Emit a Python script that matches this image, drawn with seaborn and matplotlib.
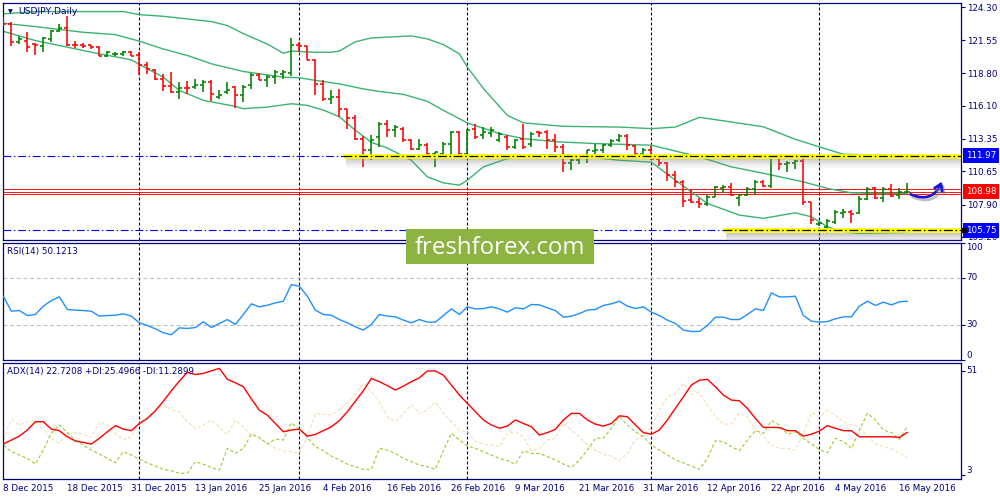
import matplotlib
matplotlib.use("Agg")
import numpy as np
import matplotlib.pyplot as plt
import matplotlib.patheffects as pe
from matplotlib.patches import Rectangle
import seaborn as sns

# ---- values ----
date_labels = ["8 Dec 2015", "18 Dec 2015", "31 Dec 2015", "13 Jan 2016", "25 Jan 2016",
               "4 Feb 2016", "16 Feb 2016", "26 Feb 2016", "9 Mar 2016", "21 Mar 2016",
               "31 Mar 2016", "12 Apr 2016", "22 Apr 2016", "4 May 2016", "16 May 2016"]
date_label_bars = [0, 8, 16, 24, 32, 40, 48, 56, 64, 72, 80, 88, 96, 104, 112]
month_sep_bars = [17, 37, 58, 81, 102]

bar_open = [
    123.36, 122.92, 121.45, 121.48, 121.26, 121.12, 121.67, 122.30, 122.59, 121.20,
    121.20, 121.14, 120.98, 120.23, 120.40, 120.40, 120.54, 120.31, 119.52, 119.10,
    118.36, 117.72, 117.25, 117.61, 117.66, 117.80, 118.08, 116.83, 117.25, 117.66,
    116.97, 117.80, 118.63, 118.22, 118.49, 118.77, 118.82, 121.20, 121.04, 119.93,
    117.94, 116.70, 116.83, 115.87, 115.12, 113.38, 112.41, 113.52, 114.63, 114.07,
    114.21, 113.24, 112.55, 112.83, 112.14, 112.14, 112.97, 113.93, 112.14, 114.21,
    113.66, 113.85, 113.30, 113.52, 112.69, 113.38, 112.97, 113.93, 113.93, 113.24,
    112.69, 111.36, 111.64, 111.81, 112.39, 112.47, 112.83, 113.24, 113.57, 112.77,
    112.14, 112.47, 111.72, 111.36, 110.34, 109.78, 108.27, 108.13, 107.93, 108.54,
    109.24, 109.37, 108.43, 108.72, 109.18, 109.78, 109.43, 111.81, 111.25, 111.36,
    111.53, 108.13, 106.28, 106.00, 106.47, 107.21, 107.30, 107.16, 108.32, 109.24,
    108.41, 109.15, 108.68, 108.95]
bar_high = [
    123.47, 123.05, 121.95, 122.28, 121.34, 121.81, 122.42, 122.92, 123.61, 121.48,
    121.34, 121.20, 121.04, 120.70, 120.56, 120.65, 120.65, 120.56, 119.73, 119.19,
    118.77, 118.91, 118.08, 118.16, 118.36, 118.27, 118.27, 117.39, 118.08, 117.72,
    117.80, 118.82, 118.82, 118.63, 119.10, 119.10, 121.76, 121.39, 121.12, 120.02,
    118.27, 117.45, 117.53, 115.87, 115.31, 113.57, 113.66, 114.76, 114.90, 114.49,
    114.34, 113.38, 113.38, 113.02, 112.27, 113.10, 114.01, 114.01, 114.21, 114.57,
    114.34, 114.34, 113.93, 113.66, 113.38, 114.57, 113.93, 114.01, 114.13, 113.80,
    112.97, 111.72, 111.91, 112.47, 112.91, 112.97, 113.38, 113.74, 113.74, 112.83,
    112.64, 112.74, 111.81, 111.44, 110.70, 109.92, 109.15, 108.41, 108.76, 109.43,
    109.51, 109.70, 108.76, 109.34, 109.92, 109.92, 111.86, 111.86, 111.53, 111.64,
    112.00, 108.13, 106.47, 106.67, 107.44, 107.49, 107.44, 108.60, 109.32, 109.32,
    109.37, 109.59, 109.24, 109.65]
bar_low = [
    122.78, 121.12, 121.26, 120.56, 120.35, 120.56, 121.39, 122.22, 121.12, 120.93,
    120.93, 120.85, 120.23, 120.15, 120.29, 120.29, 120.23, 118.63, 118.77, 118.22,
    117.33, 117.16, 116.70, 117.11, 117.53, 117.25, 116.50, 116.70, 117.11, 115.95,
    116.42, 117.53, 118.22, 117.66, 117.94, 118.36, 118.55, 120.56, 119.88, 116.97,
    116.50, 116.23, 115.17, 114.21, 113.24, 111.03, 111.58, 112.69, 113.52, 113.52,
    113.10, 112.41, 112.41, 111.72, 111.03, 112.00, 112.00, 112.00, 112.00, 113.38,
    113.38, 113.52, 113.10, 112.41, 112.55, 112.55, 112.69, 113.52, 112.55, 112.27,
    110.61, 110.75, 111.31, 111.36, 112.14, 112.19, 112.69, 113.10, 112.47, 112.00,
    112.00, 111.58, 111.09, 109.87, 109.37, 107.66, 107.99, 107.58, 107.77, 108.49,
    108.87, 108.60, 107.77, 108.60, 108.68, 109.32, 109.24, 110.81, 110.61, 110.89,
    107.85, 106.28, 106.11, 105.51, 106.28, 106.75, 106.38, 107.11, 108.27, 108.32,
    108.13, 108.49, 108.32, 108.82]
bar_close = [
    122.94, 121.45, 121.67, 120.98, 121.14, 121.72, 122.30, 122.59, 121.20, 121.14,
    121.09, 120.98, 120.29, 120.56, 120.43, 120.54, 120.29, 119.46, 119.13, 118.36,
    117.72, 117.25, 117.61, 117.55, 117.80, 118.08, 117.11, 116.97, 117.45, 116.97,
    117.66, 118.63, 118.27, 118.49, 118.91, 118.91, 121.20, 121.04, 119.93, 117.94,
    116.70, 116.83, 115.87, 115.12, 113.38, 112.41, 113.24, 114.63, 114.07, 114.34,
    113.24, 112.55, 112.83, 112.14, 112.25, 112.97, 113.93, 112.14, 114.13, 113.52,
    113.93, 114.07, 113.74, 112.69, 113.30, 112.69, 113.80, 113.85, 113.24, 112.69,
    111.36, 111.64, 111.81, 112.41, 112.44, 112.83, 113.18, 113.57, 112.83, 112.14,
    112.47, 111.72, 111.36, 110.34, 109.78, 108.21, 108.13, 107.93, 108.49, 109.32,
    109.37, 108.68, 108.68, 109.18, 109.78, 109.43, 111.81, 111.25, 111.36, 111.53,
    108.13, 106.61, 106.38, 106.55, 107.30, 107.30, 107.11, 108.32, 109.15, 108.41,
    109.15, 108.60, 108.95, 108.98]

# Bollinger bands, read at the bars where the curves were sampled
bb_up_bars = [0, 4, 15, 17, 20, 23, 26, 28, 30, 33, 35, 36, 39, 41, 42, 44, 46, 51, 53,
              55, 57, 58, 60, 63, 65, 70, 77, 81, 84, 87, 91, 95, 99, 102, 105, 110, 113]
bb_up = [123.75, 123.94, 123.94, 123.69, 123.55, 123.33, 123.11, 122.78, 122.11, 121.24,
         120.48, 120.66, 120.56, 120.56, 120.66, 121.43, 121.75, 121.92, 121.67, 121.20,
         120.43, 119.32, 117.55, 115.31, 114.69, 114.40, 114.34, 114.21, 114.34, 115.15,
         114.76, 114.36, 113.32, 112.69, 112.08, 112.00, 111.96]
bb_mid_bars = [0, 4, 10, 14, 17, 20, 23, 26, 30, 35, 37, 39, 42, 45, 47, 50, 53, 55, 58,
               62, 65, 69, 74, 81, 87, 91, 95, 100, 103, 106, 109, 113]
bb_mid = [122.97, 122.69, 122.22, 122.03, 121.48, 120.83, 120.29, 119.60, 118.96, 118.49,
          118.44, 118.22, 117.93, 117.51, 117.30, 117.06, 116.48, 115.73, 114.68, 113.80,
          113.38, 113.12, 112.97, 112.83, 111.86, 111.03, 110.50, 109.78, 109.24, 108.87,
          108.82, 108.82]
bb_low_bars = [0, 4, 8, 12, 16, 18, 20, 22, 25, 29, 30, 33, 36, 38, 40, 42, 44, 46, 48, 51,
               53, 55, 57, 58, 60, 63, 66, 70, 77, 81, 84, 88, 92, 95, 99, 101, 103, 105,
               107, 113]
bb_low = [122.30, 121.53, 120.98, 120.43, 119.93, 119.19, 118.49, 117.39, 116.56, 116.06,
          115.87, 116.00, 116.28, 116.14, 115.75, 115.20, 114.07, 113.07, 112.60, 111.58,
          110.20, 109.70, 109.51, 109.92, 111.03, 111.72, 112.00, 112.06, 111.58, 111.42,
          109.92, 107.99, 107.02, 106.75, 107.21, 106.88, 106.05, 105.64, 105.50, 105.59]

rsi = [54.4, 41.6, 42.2, 37.9, 38.8, 45.9, 50.7, 53.8, 43.1, 42.5,
       42.2, 41.6, 37.4, 37.9, 38.2, 39.4, 37.4, 31.7, 29.4, 26.6,
       23.2, 21.5, 27.4, 26.9, 27.7, 32.6, 27.7, 31.1, 34.5, 30.3,
       38.8, 47.9, 45.3, 46.7, 48.7, 50.1, 64.3, 62.9, 54.4, 42.5,
       38.8, 38.2, 34.5, 31.7, 28.3, 25.5, 30.3, 38.8, 37.4, 36.8,
       34.0, 31.7, 34.5, 32.3, 32.3, 37.9, 43.6, 38.8, 45.3, 43.6,
       43.9, 45.3, 43.6, 40.8, 44.5, 43.6, 47.3, 47.0, 44.5, 42.2,
       36.5, 37.4, 39.6, 42.5, 43.1, 46.5, 47.9, 50.1, 45.9, 43.9,
       45.3, 40.8, 37.9, 34.0, 31.1, 25.5, 24.3, 24.3, 29.4, 36.5,
       36.5, 34.5, 34.5, 38.8, 43.6, 42.2, 57.2, 53.8, 53.8, 54.4,
       37.9, 33.1, 32.3, 32.8, 35.1, 36.8, 36.8, 45.9, 50.1, 46.5,
       49.3, 47.0, 49.6, 50.12]
adx = [17.4, 19.2, 21.0, 23.8, 27.6, 27.6, 24.2, 23.5, 20.7, 18.8,
       18.1, 17.4, 20.0, 23.0, 25.8, 24.2, 23.5, 26.8, 29.1, 32.6,
       37.0, 41.8, 46.2, 50.2, 49.2, 49.7, 50.9, 52.0, 47.0, 45.4,
       43.6, 38.0, 32.9, 30.6, 26.8, 23.0, 23.8, 24.2, 21.0, 21.8,
       23.5, 25.3, 28.1, 32.2, 37.0, 41.8, 47.4, 45.9, 44.1, 42.1,
       43.9, 45.9, 47.7, 50.8, 50.8, 48.9, 44.4, 39.8, 36.0, 32.2,
       28.4, 26.1, 24.6, 25.6, 28.4, 26.8, 25.3, 21.5, 22.6, 24.1,
       28.4, 31.4, 31.4, 28.4, 26.5, 25.6, 26.8, 30.3, 29.9, 26.1,
       22.6, 21.9, 23.8, 28.4, 33.7, 39.0, 44.4, 46.6, 47.0, 43.6,
       39.8, 37.5, 37.2, 33.7, 29.1, 25.0, 25.0, 24.9, 23.5, 23.5,
       21.0, 21.9, 23.3, 25.8, 24.6, 23.5, 23.5, 20.7, 20.7, 20.7,
       20.7, 20.7, 20.4, 22.72]
plus_di = [16.9, 13.9, 12.4, 10.8, 8.2, 14.6, 22.3, 26.1, 22.6, 19.2,
           16.9, 14.6, 12.8, 10.8, 8.8, 13.9, 12.4, 10.4, 8.8, 7.3,
           5.8, 5.2, 4.0, 4.0, 9.3, 8.2, 6.6, 5.5, 15.4, 13.1,
           15.4, 22.0, 20.4, 17.4, 19.7, 19.2, 27.1, 24.2, 20.4, 16.2,
           14.3, 11.9, 10.1, 8.2, 7.0, 5.8, 5.8, 15.4, 14.6, 13.1,
           10.8, 9.3, 7.8, 7.0, 5.8, 14.3, 22.3, 19.2, 16.5, 15.4,
           13.9, 12.4, 10.8, 9.8, 8.2, 14.3, 13.1, 13.1, 11.6, 10.1,
           8.2, 6.7, 10.1, 14.6, 20.0, 20.0, 24.6, 29.9, 26.1, 23.0,
           20.7, 16.9, 14.6, 12.4, 10.1, 8.8, 7.3, 5.8, 10.8, 18.9,
           18.5, 16.2, 14.3, 19.2, 23.5, 22.3, 28.1, 26.1, 21.9, 23.0,
           20.0, 17.4, 14.9, 13.4, 20.0, 18.5, 15.4, 23.8, 31.4, 28.4,
           23.8, 22.6, 19.5, 25.50]
minus_di = [19.2, 28.7, 26.1, 27.6, 27.6, 23.8, 20.0, 17.7, 22.3, 22.6,
            21.9, 20.4, 27.6, 26.1, 22.3, 19.2, 20.7, 27.1, 29.9, 32.9,
            35.7, 32.9, 32.2, 27.6, 24.6, 26.1, 28.4, 25.3, 21.8, 28.4,
            25.3, 21.5, 20.0, 17.7, 15.4, 14.3, 13.9, 13.1, 20.7, 31.4,
            31.1, 30.6, 33.2, 36.0, 40.2, 45.1, 41.3, 36.7, 29.9, 27.6,
            31.4, 35.2, 31.4, 32.9, 36.7, 31.4, 27.6, 23.5, 23.0, 18.5,
            17.4, 16.9, 16.2, 22.3, 23.0, 20.7, 14.3, 15.4, 19.2, 20.0,
            27.1, 23.8, 20.7, 16.9, 14.6, 12.8, 11.9, 9.6, 13.1, 19.2,
            21.5, 25.3, 32.9, 39.0, 40.6, 45.1, 40.2, 40.9, 35.2, 29.9,
            26.5, 26.5, 31.7, 29.9, 23.8, 20.7, 16.9, 15.4, 15.4, 14.6,
            22.3, 31.7, 29.9, 32.9, 30.6, 27.6, 26.1, 25.3, 20.7, 17.7,
            16.2, 15.4, 13.1, 11.29]

price_ticks = [105.20, 107.90, 110.65, 113.35, 116.10, 118.80, 121.55, 124.30]
resistance = 111.97
support = 105.75
last_price = 108.98
rsi_levels = [30, 70]
rsi_tick_labels = {100: "100", 70: "70", 30: "30", 0: "0"}
adx_tick_labels = {51: "51", 3: "3"}
rsi_caption = "RSI(14) 50.1213"
adx_caption = "ADX(14) 22.7208 +DI:25.4966 -DI:11.2899"

# ---- style ----
sns.set_theme(style="white")
plt.rcParams["font.family"] = ["DejaVu Sans"]
NAVY = "#000080"
FS = 6.3

fig = plt.figure(figsize=(10, 5), dpi=100)
ax_p = fig.add_axes([0.0027, 0.520, 0.9583, 0.4746])
ax_r = fig.add_axes([0.0027, 0.280, 0.9583, 0.2346])
ax_a = fig.add_axes([0.0027, 0.042, 0.9583, 0.2326])

xmax = 119.7
for ax in (ax_p, ax_r, ax_a):
    ax.set_xlim(-0.08, xmax)
    ax.set_xticks([])
    ax.set_facecolor("white")
    for s in ax.spines.values():
        s.set_color(NAVY)
        s.set_linewidth(0.9)
    for b in month_sep_bars:
        ax.axvline(b, color=NAVY, lw=0.8, ls=(0, (2.7, 1.8)), zorder=1)
    ax.yaxis.tick_right()
    ax.tick_params(axis="y", colors=NAVY, labelsize=FS, length=3, width=0.8,
                   pad=1.5, direction="out")

# ---- price panel ----
ax_p.set_ylim(104.95, 124.68)
ax_p.set_yticks(price_ticks)
ax_p.set_yticklabels([f"{v:.2f}" for v in price_ticks])

for band_x, band_y in ((bb_up_bars, bb_up), (bb_mid_bars, bb_mid), (bb_low_bars, bb_low)):
    sns.lineplot(x=band_x, y=band_y, ax=ax_p, color="#3CB371", lw=1.0,
                 estimator=None, sort=False, legend=False, zorder=2)

for off in (-0.19, 0.0, 0.19):
    ax_p.axhline(last_price + off, color="#FF0000", lw=0.65, zorder=1.5)
for lvl in (resistance, support):
    ax_p.axhline(lvl, color="#0000FF", lw=0.8, ls=(0, (7, 2.5, 1.2, 2.5)), zorder=1.6)

x = np.arange(len(bar_close))
o = np.array(bar_open)
c = np.array(bar_close)
cols = np.where(c >= o, "#008000", "#FF0000")
ax_p.vlines(x, bar_low, bar_high, colors=cols, lw=1.15, zorder=3)
ax_p.hlines(o, x - 0.38, x, colors=cols, lw=1.15, zorder=3)
ax_p.hlines(c, x, x + 0.38, colors=cols, lw=1.15, zorder=3)


def marked_level(ax, level, start):
    for k, a in enumerate([0.40, 0.30, 0.20, 0.12, 0.06]):
        ax.fill_between([start + 0.3, xmax], level - 0.2 - 0.17 * k, level - 0.37 - 0.17 * k,
                        color="#808080", alpha=a, lw=0, zorder=4)
    ax.plot([start, xmax], [level, level], color="#FFFF00", lw=3.3,
            solid_capstyle="butt", zorder=5)
    ax.plot([start, xmax], [level, level], color="black", lw=0.9,
            ls=(0, (7, 2.2, 1.2, 2.2)), zorder=6)


marked_level(ax_p, resistance, 42.5)
marked_level(ax_p, support, 90.0)

ax_p.annotate("", xy=(117.3, 109.8), xytext=(113.4, 108.75),
              arrowprops=dict(arrowstyle="->,head_length=0.38,head_width=0.25",
                              color="#1414DC", lw=1.9, shrinkA=0, shrinkB=0,
                              connectionstyle="arc3,rad=0.5",
                              path_effects=[pe.SimpleLineShadow(offset=(1.5, -2),
                                                                shadow_color="gray", alpha=0.5),
                                            pe.Normal()]),
              zorder=7)

for lvl, face in ((resistance, "#0000FF"), (last_price, "#FF0000"), (support, "#0000FF")):
    ax_p.text(1.0052, lvl, f"{lvl:.2f}", transform=ax_p.get_yaxis_transform(),
              ha="left", va="center", fontsize=FS, color="white", zorder=8, clip_on=False,
              bbox=dict(boxstyle="square,pad=0.32", fc=face, ec="none"))
ax_p.plot([1.003], [support], marker="s", ms=2.4, color="black",
          transform=ax_p.get_yaxis_transform(), clip_on=False, zorder=9)

ax_p.text(0.0055, 0.963, "\u25BC", transform=ax_p.transAxes, fontsize=4.5,
          color=NAVY, va="center", ha="left")
ax_p.text(0.0158, 0.963, "USDJPY,Daily", transform=ax_p.transAxes, fontsize=FS + 0.4,
          color=NAVY, va="center", ha="left")
ax_p.set_xlabel("")
ax_p.set_ylabel("")

# ---- RSI panel ----
ax_r.set_ylim(0, 100)
for lvl in rsi_levels:
    ax_r.axhline(lvl, color="#C0C0C0", lw=0.8, ls=(0, (3.5, 2.5)), zorder=1)
sns.lineplot(x=x, y=rsi, ax=ax_r, color="#1E90FF", lw=1.0, estimator=None,
             sort=False, legend=False, zorder=3)
ax_r.set_yticks(list(rsi_tick_labels.keys()), labels=[""] * len(rsi_tick_labels))
for v, lbl in rsi_tick_labels.items():
    va = "top" if v == 100 else ("bottom" if v == 0 else "center")
    ax_r.text(1.0052, v, lbl, transform=ax_r.get_yaxis_transform(), ha="left", va=va,
              fontsize=FS, color=NAVY, clip_on=False)
ax_r.text(0.0045, 0.923, rsi_caption, transform=ax_r.transAxes, fontsize=FS,
          color=NAVY, va="center", ha="left")
ax_r.set_xlabel("")
ax_r.set_ylabel("")

# ---- ADX panel ----
ax_a.set_ylim(1.39, 54.6)
sns.lineplot(x=x, y=minus_di, ax=ax_a, color="#F5DEB3", lw=0.8, ls=(0, (3, 2)),
             estimator=None, sort=False, legend=False, zorder=2)
sns.lineplot(x=x, y=plus_di, ax=ax_a, color="#9ACD32", lw=0.8, ls=(0, (3, 2)),
             estimator=None, sort=False, legend=False, zorder=2.5)
sns.lineplot(x=x, y=adx, ax=ax_a, color="#FF0000", lw=1.0, estimator=None,
             sort=False, legend=False, zorder=3)
ax_a.set_yticks(list(adx_tick_labels.keys()), labels=[""] * len(adx_tick_labels))
for v, lbl in adx_tick_labels.items():
    ax_a.text(1.0052, v, lbl, transform=ax_a.get_yaxis_transform(), ha="left",
              va="center" if v == 51 else "bottom", fontsize=FS, color=NAVY, clip_on=False)
ax_a.text(0.0045, 0.923, adx_caption, transform=ax_a.transAxes, fontsize=FS,
          color=NAVY, va="center", ha="left")
for b, lbl in zip(date_label_bars, date_labels):
    ax_a.text(b - 0.05, -0.08, lbl, transform=ax_a.get_xaxis_transform(), ha="left",
              va="center", fontsize=FS, color=NAVY, clip_on=False)
ax_a.set_xlabel("")
ax_a.set_ylabel("")

# ---- watermark ----
fig.patches.append(Rectangle((0.406, 0.472), 0.188, 0.070, transform=fig.transFigure,
                             facecolor="#8DB443", edgecolor="none", zorder=10))
fig.text(0.5, 0.4926, "freshforex.com", fontsize=17.3, color="white", family="Open Sans",
         ha="center", va="baseline", zorder=11)

fig.savefig("out.png", dpi=100, facecolor="white")
